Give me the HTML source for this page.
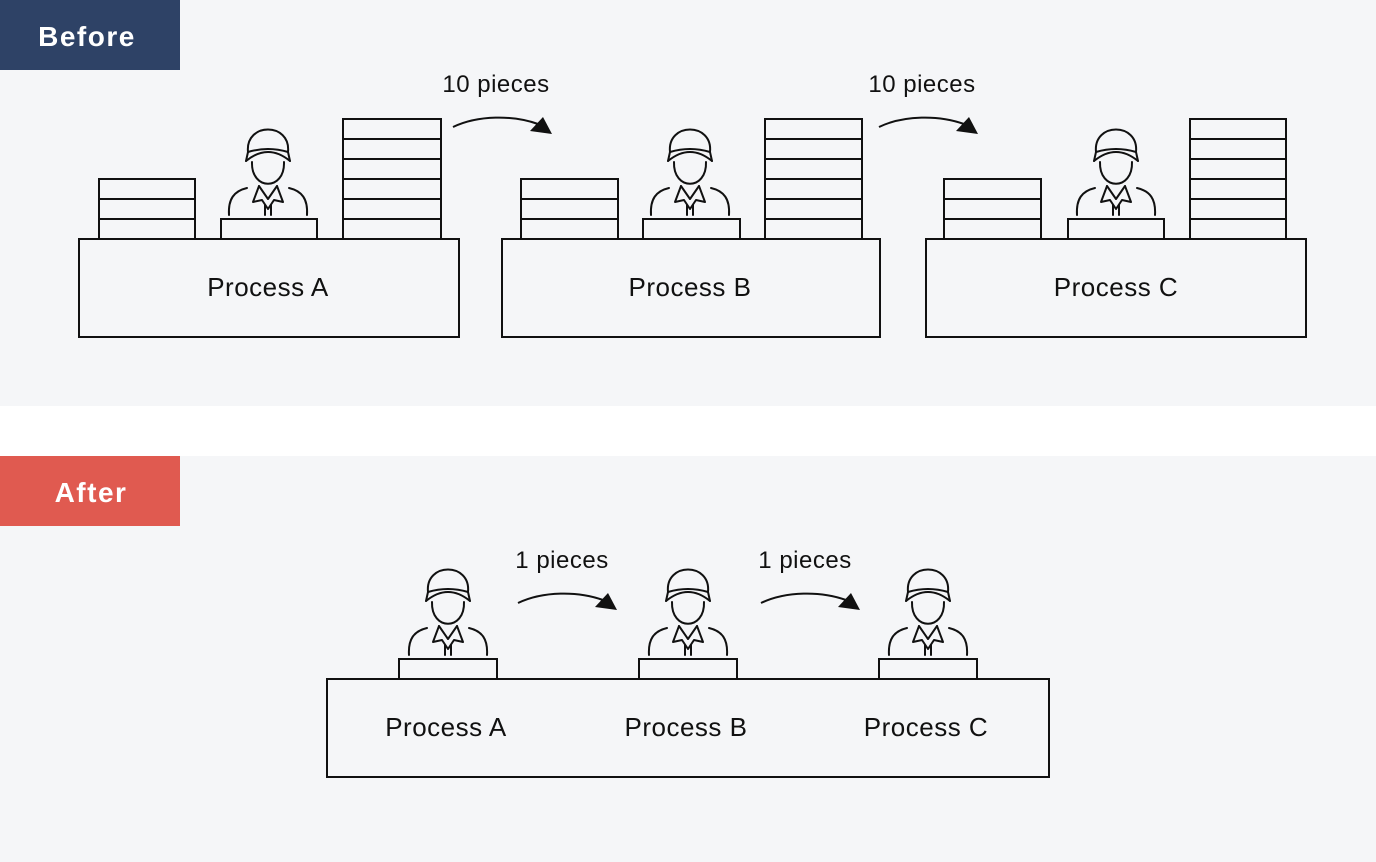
<!DOCTYPE html>
<html><head><meta charset="utf-8"><style>
html,body{margin:0;padding:0;background:#fff;}
svg{display:block;}
text{font-family:"Liberation Sans","DejaVu Sans",sans-serif;fill:#111;}
</style></head><body>
<svg width="1376" height="862" viewBox="0 0 1376 862" xmlns="http://www.w3.org/2000/svg">
<defs>
<g id="w" fill="none" stroke="#111" stroke-width="2" stroke-linecap="round" stroke-linejoin="round">
  <path d="M-20,-67 C-23,-97 23,-97 20,-67"/>
  <path d="M-20,-67 Q0,-73 20,-67"/>
  <path d="M-22,-58 Q0,-76 22,-58"/>
  <path d="M-22,-58 L-20,-67 M22,-58 L20,-67"/>
  <path d="M-16,-57 C-17,-28 17,-28 16,-57"/>
  <path d="M-39,-4 C-40,-20 -34,-28 -21,-31"/>
  <path d="M39,-4 C40,-20 34,-28 21,-31"/>
  <path d="M-9,-33 L-15,-17 L-6,-19 L0,-10 L6,-19 L15,-17 L9,-33"/>
  <path d="M-9,-33 L0,-20 L9,-33"/>
  <path d="M-3,-14 V-4 M3,-14 V-4"/>
</g>
<g id="ar">
  <path d="M0,0 C25,-12 60,-12 85,-3" fill="none" stroke="#111" stroke-width="2"/>
  <polygon points="77,4 99,7 90,-10" fill="#111"/>
</g>
</defs>
<rect x="0" y="0" width="1376" height="406" fill="#f5f6f8"/>
<rect x="0" y="456" width="1376" height="406" fill="#f5f6f8"/>
<rect x="0" y="0" width="180" height="70" fill="#2e4266"/>
<text x="87" y="46" font-size="28" font-weight="bold" style="fill:#fff;letter-spacing:1.5px" text-anchor="middle">Before</text>
<rect x="0" y="456" width="180" height="70" fill="#e05a50"/>
<text x="91" y="502" font-size="28" font-weight="bold" style="fill:#fff;letter-spacing:1.5px" text-anchor="middle">After</text>

<g fill="none" stroke="#111" stroke-width="2">
  <rect x="79" y="239" width="380" height="98"/>
  <rect x="99" y="179" width="96" height="60"/><path d="M99,199H195M99,219H195"/>
  <rect x="221" y="219" width="96" height="20"/>
  <rect x="343" y="119" width="98" height="120"/><path d="M343,139H441M343,159H441M343,179H441M343,199H441M343,219H441"/>
  <rect x="502" y="239" width="378" height="98"/>
  <rect x="521" y="179" width="97" height="60"/><path d="M521,199H618M521,219H618"/>
  <rect x="643" y="219" width="97" height="20"/>
  <rect x="765" y="119" width="97" height="120"/><path d="M765,139H862M765,159H862M765,179H862M765,199H862M765,219H862"/>
  <rect x="926" y="239" width="380" height="98"/>
  <rect x="944" y="179" width="97" height="60"/><path d="M944,199H1041M944,219H1041"/>
  <rect x="1068" y="219" width="96" height="20"/>
  <rect x="1190" y="119" width="96" height="120"/><path d="M1190,139H1286M1190,159H1286M1190,179H1286M1190,199H1286M1190,219H1286"/>
  <rect x="327" y="679" width="722" height="98"/>
  <rect x="399" y="659" width="98" height="20"/>
  <rect x="639" y="659" width="98" height="20"/>
  <rect x="879" y="659" width="98" height="20"/>
</g>
<use href="#ar" x="453" y="127"/>
<use href="#ar" x="879" y="127"/>
<use href="#ar" x="518" y="603"/>
<use href="#ar" x="761" y="603"/>
<use href="#w" x="268" y="219"/>
<use href="#w" x="690" y="219"/>
<use href="#w" x="1116" y="219"/>
<use href="#w" x="448" y="659"/>
<use href="#w" x="688" y="659"/>
<use href="#w" x="928" y="659"/>

<g font-size="26" text-anchor="middle" style="letter-spacing:0.5px">
<text x="268" y="296">Process A</text>
<text x="690" y="296">Process B</text>
<text x="1116" y="296">Process C</text>
<text x="446" y="736">Process A</text>
<text x="686" y="736">Process B</text>
<text x="926" y="736">Process C</text>
</g>
<g font-size="24" text-anchor="middle" style="letter-spacing:0.5px">
<text x="496" y="92">10 pieces</text>
<text x="922" y="92">10 pieces</text>
<text x="562" y="568">1 pieces</text>
<text x="805" y="568">1 pieces</text>
</g>
</svg>
</body></html>
